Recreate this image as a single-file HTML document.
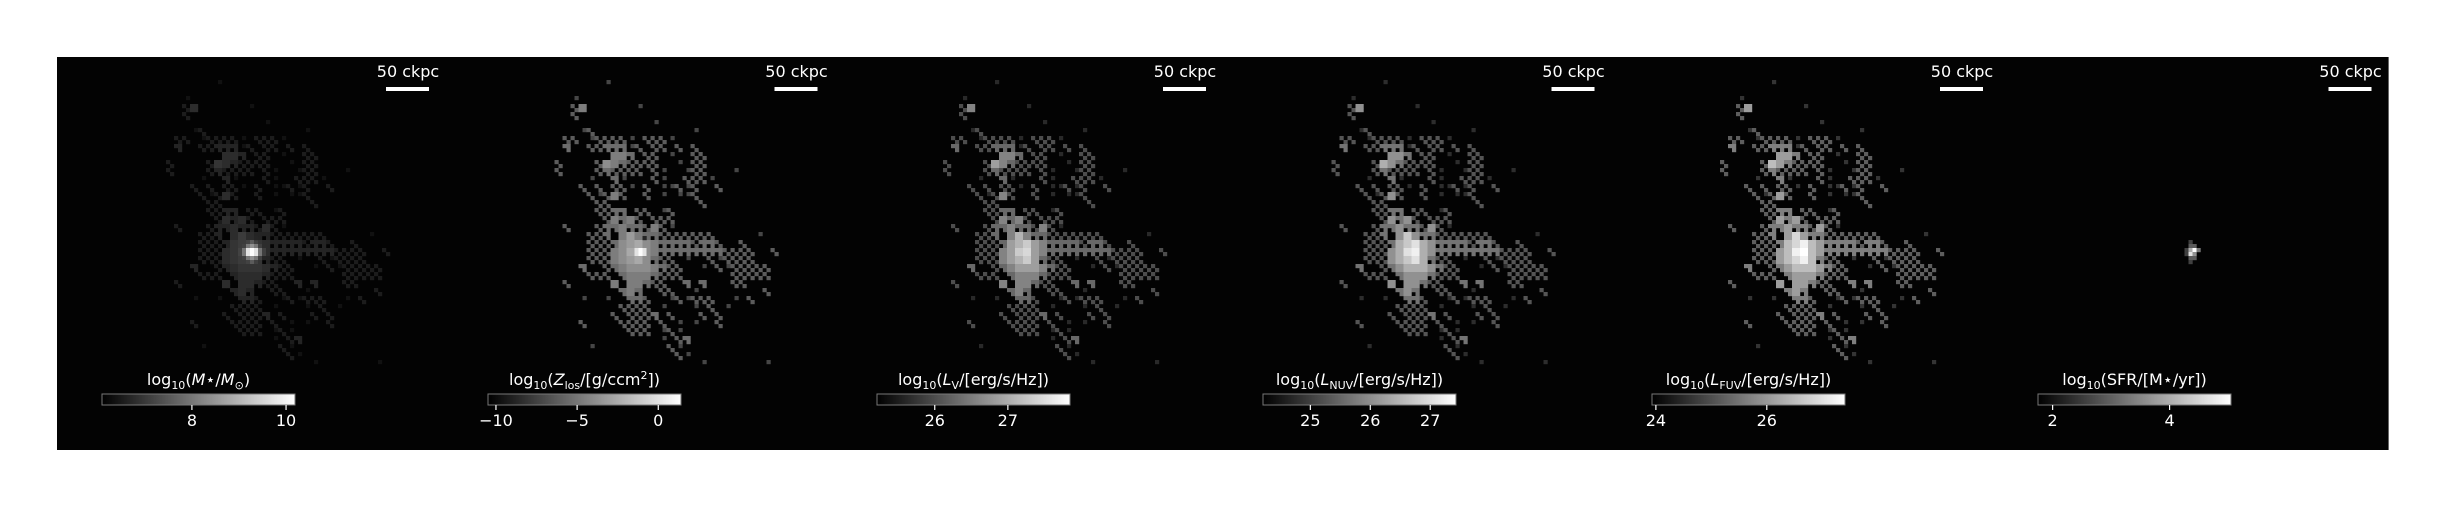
<!DOCTYPE html>
<html><head><meta charset="utf-8"><style>
html,body{margin:0;padding:0;background:#fff}
svg text{font-family:"DejaVu Sans","Liberation Sans",sans-serif;fill:#fff}
</style></head><body>
<svg id="fig" width="2444" height="507" viewBox="0 0 2444 507" xmlns="http://www.w3.org/2000/svg">
<defs><linearGradient id="gr" x1="0" x2="1" y1="0" y2="0"><stop offset="0" stop-color="#000"/><stop offset="1" stop-color="#fff"/></linearGradient></defs>
</svg>
<script>
// shared projected map (8px cells, 30 cols x 36 rows)
const mapRows = [
"000000010000000000000000000000",
"000000000000000000000000000000",
"000100000000000000000000000000",
"000240000001000000000000000000",
"000200000000000000000000000000",
"000000000000010000000000000000",
"000012000000000000100000000000",
"002201222210222100000000000000",
"003002233312022020200000000000",
"000000004430220100220000000000",
"020000254322220010220000000000",
"020000232222021001220001000000",
"000001003100021002221000000000",
"000020202210201121200200000000",
"000002124200201011200000000000",
"000000220000000000020000000000",
"000000223302201200000000000000",
"000000024342022200000000000000",
"002000233433242100000000000000",
"000002230464332222222000001000",
"000002223567543333233200200000",
"000002224578543333333322220020",
"000002224567532201002122220000",
"000030023455543220010212222200",
"000002220344432220000002222200",
"002000004044322003030002200000",
"000000000343002200100000000200",
"000010010033200121222001020000",
"000000000222201000102010000000",
"000000002022230200020200000000",
"000020000222202010100200000000",
"000000000022201210000000000000",
"000000000000001023000000000000",
"000001000000000210000000000000",
"000000000000000021000000000000",
"000000000000000000010000000100"
];
const mapGray = [0,45,85,115,145,175,200,225,240,255];
const coreBig = ["000111000","001232100","012454210","024898420","024898420","012454210","001232100","000111000"];
const coreSmall = ["000000000","000200000","000330000","002694000","002850000","000330000","000200000","000000000"];
const panelNames = ["stellar-mass","metallicity","v-band-luminosity","nuv-luminosity","fuv-luminosity","star-formation-rate"];
const panelMapGain = [0.27, 0.55, 0.9, 1.0, 1.05, 0];
const panelMapBase = [5, 45, 0, 0, 5, 0];
const panelCore = [1, 1, 0, 0, 0, 2];
const cbLabels = ["log<tspan font-size='11' dy='4'>10</tspan><tspan dy='-4'>(</tspan><tspan font-style='italic'>M</tspan><tspan>⋆/</tspan><tspan font-style='italic'>M</tspan><tspan font-size='11' dy='4'>⊙</tspan><tspan dy='-4'>)</tspan>",
"log<tspan font-size='11' dy='4'>10</tspan><tspan dy='-4'>(</tspan><tspan font-style='italic'>Z</tspan><tspan font-size='11' dy='4'>los</tspan><tspan dy='-4'>/[g/ccm</tspan><tspan font-size='11' dy='-6'>2</tspan><tspan dy='6'>])</tspan>",
"log<tspan font-size='11' dy='4'>10</tspan><tspan dy='-4'>(</tspan><tspan font-style='italic'>L</tspan><tspan font-size='11' dy='4'>V</tspan><tspan dy='-4'>/[erg/s/Hz])</tspan>",
"log<tspan font-size='11' dy='4'>10</tspan><tspan dy='-4'>(</tspan><tspan font-style='italic'>L</tspan><tspan font-size='11' dy='4'>NUV</tspan><tspan dy='-4'>/[erg/s/Hz])</tspan>",
"log<tspan font-size='11' dy='4'>10</tspan><tspan dy='-4'>(</tspan><tspan font-style='italic'>L</tspan><tspan font-size='11' dy='4'>FUV</tspan><tspan dy='-4'>/[erg/s/Hz])</tspan>",
"log<tspan font-size='11' dy='4'>10</tspan><tspan dy='-4'>(SFR/[M⋆/yr])</tspan>"];
const cbLeft = [102, 488, 877, 1263, 1652, 2038];
const cbVmin = [6.09, -10.49, 25.21, 24.21, 23.93, 1.75];
const cbVmax = [10.19, 1.4, 27.85, 27.43, 27.41, 5.05];
const cbTicks = [[8,10],[-10,-5,0],[26,27],[25,26,27],[24,26],[2,4]];
const cbTickLabels = [["8","10"],["−10","−5","0"],["26","27"],["25","26","27"],["24","26"],["2","4"]];

const NS="http://www.w3.org/2000/svg";
const svg=document.getElementById('fig');
function mk(tag,attrs,parent){const e=document.createElementNS(NS,tag);for(const k in attrs)e.setAttribute(k,attrs[k]);(parent||svg).appendChild(e);return e;}
const X0=57, PW=388.5, Y0=57, PH=393, CB=193, MX=101, MY=23;
const subOn = v => v>=4 ? [[0,0],[1,0],[0,1],[1,1]] : v==3 ? [[0,0],[1,1],[1,0]] : (v==2 ? [[0,0],[1,1]] : [[1,0]]);
for(let p=0;p<6;p++){
  const px=X0+p*PW;
  const g=mk('g',{});
  
  
  const bg=mk('rect',{x:px,y:Y0,width:PW+0.6,height:PH,fill:'#030303'},g);
  
  
  const hm=mk('g',{},g);
  
  
  const grid={};
  if(panelMapGain[p]>0){
    for(let r=0;r<mapRows.length;r++)for(let c=0;c<mapRows[r].length;c++){
      const v=+mapRows[r][c]; if(!v)continue;
      const gv=Math.min(255,Math.round(panelMapBase[p]+mapGray[v]*panelMapGain[p]));
      subOn(v).forEach(([sx,sy])=>{ grid[(MX+c*8+sx*4)+','+(MY+r*8+sy*4)]=gv; });
    }
  }
  if(panelCore[p]){
    const core=panelCore[p]==1?coreBig:coreSmall;
    for(let r=0;r<core.length;r++)for(let c=0;c<core[r].length;c++){
      const v=+core[r][c]; if(!v)continue;
      const gv=Math.min(255,v*27+10);
      const k=(177+c*4)+','+(179+r*4);
      grid[k]=Math.max(grid[k]||0,gv);
    }
  }
  for(const k in grid){
    const [cx,cy]=k.split(',').map(Number); const gv=grid[k];
    const cell=mk('rect',{x:px+cx,y:Y0+cy,width:4.2,height:4.2,fill:`rgb(${gv},${gv},${gv})`},hm);
    
    
  }
  const sb=mk('rect',{x:px+329,y:87,width:43,height:4,fill:'#fff'},g);
  
  
  const st=mk('text',{x:px+351,y:77,'font-size':16,'text-anchor':'middle'},g);
  st.textContent='50 ckpc';
  
  
  const L=cbLeft[p];
  const cb=mk('rect',{x:L,y:394,width:CB,height:11,fill:'url(#gr)',stroke:'#777','stroke-width':1},g);
  
  
  const lab=mk('text',{x:L+CB/2,y:385,'font-size':16,'text-anchor':'middle'},g);
  lab.innerHTML=cbLabels[p];
  
  
  const sx=v=>L+(v-cbVmin[p])/(cbVmax[p]-cbVmin[p])*CB;
  cbTicks[p].forEach((t,i)=>{
    const x=sx(t);
    const tk=mk('line',{x1:x,x2:x,y1:405,y2:410,stroke:'#fff','stroke-width':1.2},g);
    
    
    const tl=mk('text',{x:x,y:426,'font-size':16,'text-anchor':'middle'},g);
    tl.textContent=cbTickLabels[p][i];
    
    
  });
}
</script>
</body></html>
